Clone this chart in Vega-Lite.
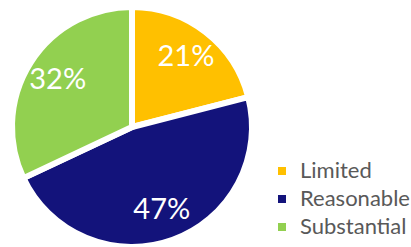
{
  "$schema": "https://vega.github.io/schema/vega-lite/v6.json",
  "width": 264,
  "height": 254,
  "padding": {"left": 0, "top": 0, "right": 147, "bottom": 0},
  "autosize": {"type": "none"},
  "background": "white",
  "view": {"stroke": null},
  "data": {"values": [
    {"category": "Limited", "value": 21, "order": 1, "label": "21%"},
    {"category": "Reasonable", "value": 47, "order": 2, "label": "47%"},
    {"category": "Substantial", "value": 32, "order": 3, "label": "32%"}
  ]},
  "encoding": {
    "theta": {"field": "value", "type": "quantitative", "stack": true},
    "order": {"field": "order", "type": "quantitative"},
    "color": {
      "field": "category", "type": "nominal",
      "scale": {"domain": ["Limited", "Reasonable", "Substantial"], "range": ["#FFC000", "#13137B", "#92D050"]},
      "legend": {
        "title": null, "orient": "none", "legendX": 271, "legendY": 160,
        "symbolType": "square", "symbolSize": 64, "symbolStrokeWidth": 0,
        "labelFont": "Lato", "labelFontSize": 22, "labelColor": "#595959",
        "rowPadding": 6, "labelOffset": 7
      }
    }
  },
  "layer": [
    {"mark": {"type": "arc", "outerRadius": 120, "stroke": "white", "strokeWidth": 6}},
    {"mark": {"type": "text", "radius": 88, "font": "Lato", "fontSize": 29, "fill": "white"},
     "encoding": {"text": {"field": "label"}, "color": {"value": "white"}}}
  ]
}
